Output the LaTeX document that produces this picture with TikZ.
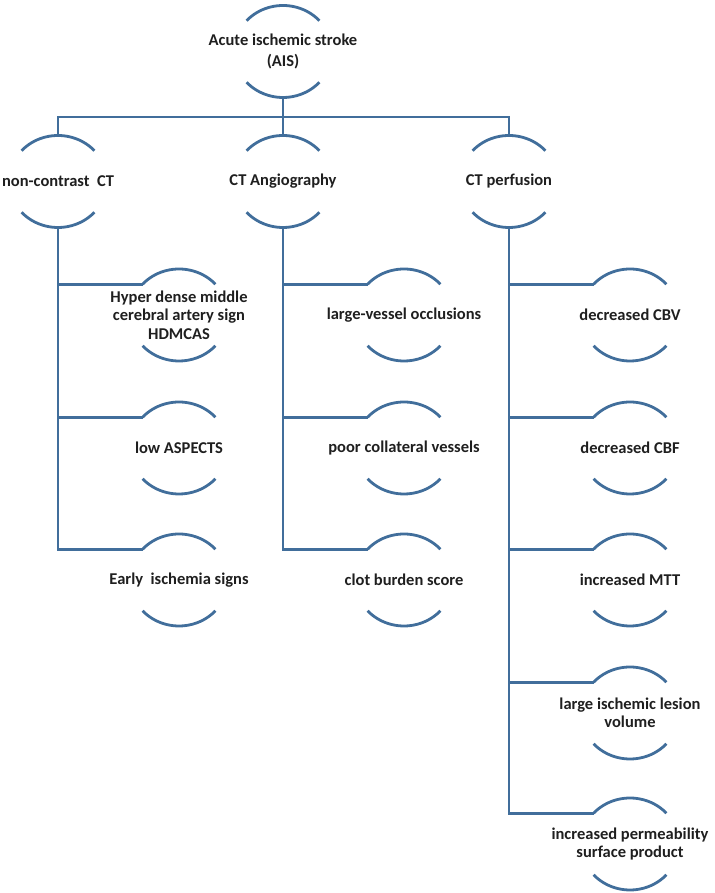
\documentclass[tikz,border=0pt]{standalone}
\usepackage{fontspec}
\setmainfont{Carlito}
\definecolor{linecol}{RGB}{65,110,155}
\tikzset{
  arcline/.style={draw=linecol, line width=2.8pt},
  conn/.style={draw=linecol, line width=2.8pt},
  lbl/.style={font=\bfseries\fontsize{16.5}{18.5}\selectfont, align=center, inner sep=0pt, text=black!88},
}
\newcommand\arcpair[1]{%
  \draw[arcline] ([shift={(-36.41pt,30.78pt)}]#1.center) arc[start angle=138,end angle=42,x radius=49pt,y radius=46pt];
  \draw[arcline] ([shift={(-36.41pt,-30.78pt)}]#1.center) arc[start angle=222,end angle=318,x radius=49pt,y radius=46pt];
  \coordinate (#1-t) at ([yshift=46pt]#1.center);
  \coordinate (#1-b) at ([yshift=-46pt]#1.center);
  \coordinate (#1-l) at ([shift={(-36.41pt,30.78pt)}]#1.center);
}
\begin{document}
\begin{tikzpicture}[x=1pt,y=1pt]
\useasboundingbox (0,0) rectangle (714,893);
% root
\node[lbl, font=\bfseries\fontsize{16.5}{21}\selectfont] (root) at (283,841.5) {Acute ischemic stroke\\(AIS)};
\arcpair{root}
% level 2
\node[lbl] (nc) at (58,711.5) {non-contrast\ \ CT};
\node[lbl] (ang) at (283,711.5) {CT Angiography};
\node[lbl] (per) at (509,711.5) {CT perfusion};
\arcpair{nc}\arcpair{ang}\arcpair{per}
% children column 1
\node[lbl] (a1) at (179,578) {Hyper dense middle\\cerebral artery sign\\HDMCAS};
\node[lbl] (a2) at (179,445) {low ASPECTS};
\node[lbl] (a3) at (179,313) {Early\ \ ischemia signs};
% children column 2
\node[lbl] (b1) at (404,578) {large-vessel occlusions};
\node[lbl] (b2) at (404,445) {poor collateral vessels};
\node[lbl] (b3) at (404,313) {clot burden score};
% children column 3
\node[lbl] (c1) at (630,578) {decreased CBV};
\node[lbl] (c2) at (630,445) {decreased CBF};
\node[lbl] (c3) at (630,313) {increased MTT};
\node[lbl] (c4) at (630,180) {large ischemic lesion\\volume};
\node[lbl] (c5) at (630,49) {increased permeability\\surface product};
\foreach \n in {a1,a2,a3,b1,b2,b3,c1,c2,c3,c4,c5}{\arcpair{\n}}
% connectors
\coordinate (bar) at (283,776);
\draw[conn] (root-b) -- (ang-t);
\draw[conn] (nc-t) |- (bar) -| (per-t);
\foreach \c in {a1,a2,a3}{\draw[conn] (nc-b) |- (\c-l);}
\foreach \c in {b1,b2,b3}{\draw[conn] (ang-b) |- (\c-l);}
\foreach \c in {c1,c2,c3,c4,c5}{\draw[conn] (per-b) |- (\c-l);}
\end{tikzpicture}
\end{document}
